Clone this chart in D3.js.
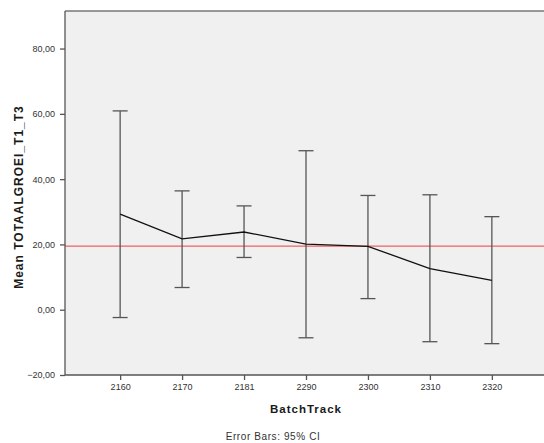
<!DOCTYPE html>
<html>
<head>
<meta charset="utf-8">
<script src="https://cdn.jsdelivr.net/npm/d3@7"></script>
<style>
  html, body { margin: 0; padding: 0; background: #ffffff; }
  svg { display: block; font-family: Arial, "Liberation Sans", sans-serif; }
</style>
</head>
<body>
<svg id="chart" width="544" height="443"></svg>
<script>
// BatchTrack groups with mean TOTAALGROEI_T1_T3 and 95% confidence limits
const categories = ["2160", "2170", "2181", "2290", "2300", "2310", "2320"];
const means      = [29.3, 21.7, 23.8, 20.1, 19.4, 12.6, 9.0];
const ciLower    = [-2.4, 6.8, 16.0, -8.6, 3.4, -9.8, -10.4];
const ciUpper    = [60.9, 36.4, 31.8, 48.7, 35.0, 35.2, 28.5];
const referenceLine = 19.5;
const yTicks = [-20, 0, 20, 40, 60, 80];

const svg = d3.select("#chart");
const plot = { left: 65, top: 11, right: 547, bottom: 375 };

const x = d3.scalePoint()
  .domain(categories)
  .range([plot.left, plot.right])
  .padding(0.89);

const y = d3.scaleLinear()
  .domain([-20, 91.5])
  .range([plot.bottom, plot.top]);

// plot area background
svg.append("rect")
  .attr("x", plot.left).attr("y", plot.top)
  .attr("width", plot.right - plot.left).attr("height", plot.bottom - plot.top)
  .attr("fill", "#f0f0f0");

// reference line
svg.append("line")
  .attr("x1", plot.left).attr("x2", plot.right)
  .attr("y1", y(referenceLine)).attr("y2", y(referenceLine))
  .attr("stroke", "#f06060").attr("stroke-width", 1.3);

// error bars
const capHalf = 7.5;
const bars = svg.append("g").attr("stroke", "#555555").attr("stroke-width", 1.3);
categories.forEach((c, i) => {
  const cx = x(c);
  bars.append("line").attr("x1", cx).attr("x2", cx)
    .attr("y1", y(ciLower[i])).attr("y2", y(ciUpper[i]));
  bars.append("line").attr("x1", cx - capHalf).attr("x2", cx + capHalf)
    .attr("y1", y(ciUpper[i])).attr("y2", y(ciUpper[i]));
  bars.append("line").attr("x1", cx - capHalf).attr("x2", cx + capHalf)
    .attr("y1", y(ciLower[i])).attr("y2", y(ciLower[i]));
});

// mean line
const line = d3.line()
  .x((d, i) => x(categories[i]))
  .y(d => y(d));
svg.append("path")
  .datum(means)
  .attr("d", line)
  .attr("fill", "none")
  .attr("stroke", "#111111")
  .attr("stroke-width", 1.3);

// axes
const fmt = d => d3.format(".2f")(d).replace(".", ",");
const yAxis = svg.append("g")
  .attr("transform", `translate(${plot.left},0)`)
  .call(d3.axisLeft(y).tickValues(yTicks).tickFormat(fmt).tickSize(5).tickPadding(5));
const xAxis = svg.append("g")
  .attr("transform", `translate(0,${plot.bottom})`)
  .call(d3.axisBottom(x).tickSize(5).tickPadding(4));

[yAxis, xAxis].forEach(g => {
  g.select(".domain").remove();
  g.selectAll(".tick line").attr("stroke", "#555555").attr("stroke-width", 1.3);
  g.selectAll(".tick text").attr("fill", "#333333").attr("font-size", 9);
});

// frame: top, left and bottom edges
svg.append("line").attr("x1", plot.left).attr("x2", plot.right)
  .attr("y1", plot.top).attr("y2", plot.top)
  .attr("stroke", "#777777").attr("stroke-width", 1.5);
svg.append("line").attr("x1", plot.left).attr("x2", plot.left)
  .attr("y1", plot.top).attr("y2", plot.bottom)
  .attr("stroke", "#555555").attr("stroke-width", 1.3);
svg.append("line").attr("x1", plot.left).attr("x2", plot.right)
  .attr("y1", plot.bottom).attr("y2", plot.bottom)
  .attr("stroke", "#555555").attr("stroke-width", 1.3);

// titles
svg.append("text")
  .attr("x", 306).attr("y", 413)
  .attr("text-anchor", "middle")
  .attr("font-size", 11.5).attr("font-weight", "bold").attr("letter-spacing", 1)
  .attr("fill", "#1a1a1a")
  .text("BatchTrack");

svg.append("text")
  .attr("transform", "translate(22.5,197) rotate(-90)")
  .attr("text-anchor", "middle")
  .attr("font-size", 12).attr("font-weight", "bold").attr("letter-spacing", 1)
  .attr("fill", "#1a1a1a")
  .text("Mean TOTAALGROEI_T1_T3");

svg.append("text")
  .attr("x", 273).attr("y", 440)
  .attr("text-anchor", "middle")
  .attr("font-size", 10).attr("letter-spacing", 0.6).attr("fill", "#333333")
  .text("Error Bars: 95% CI");
</script>
</body>
</html>
